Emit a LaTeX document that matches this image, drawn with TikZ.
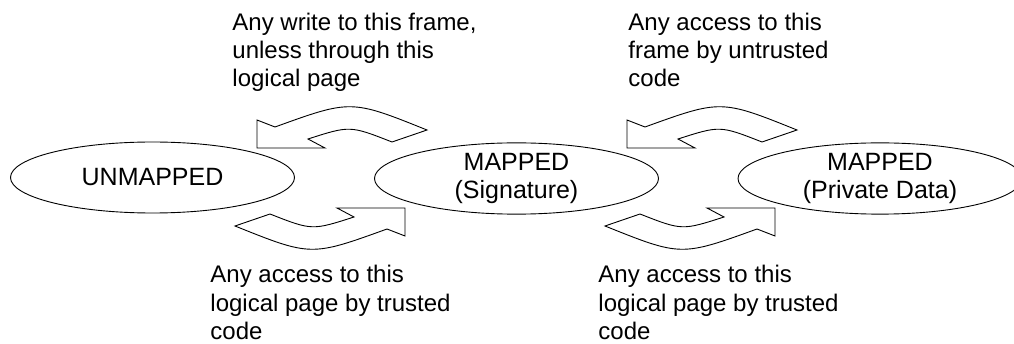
\documentclass[tikz,border=0pt]{standalone}
\usepackage{fontspec}
\setmainfont{Liberation Sans}
\usepackage{tikz}
\usetikzlibrary{shapes.geometric}

\begin{document}
\begin{tikzpicture}[x=1pt, y=-1pt, line width=0.9pt,
    state/.style={draw, ellipse, inner sep=0pt, minimum width=284pt, minimum height=71pt,
      align=center, font=\fontsize{25}{28}\selectfont},
    cond/.style={anchor=base west, inner sep=0pt, align=left,
      font=\fontsize{24}{28}\selectfont},
    bent arrow/.style={draw, line join=miter, fill=white}]
    \useasboundingbox (0,0) rectangle (1014,344);

    % States
    \node[state] (unmapped) at (152.5,177.5) {UNMAPPED};
    \node[state] (sig) at (516.5,178.5) {MAPPED\\(Signature)};
    \node[state] (priv) at (880,178.5) {MAPPED\\(Private Data)};

    % Curved arrows between the states
    \foreach \cx in {331,701}
      \foreach \rot in {0,180}
        \draw[bent arrow, shift={(\cx,178)}, rotate=\rot]
          (-74,-30) -- (-74,-58) -- (-56,-51) .. controls (20,-78.5) .. (96,-48)
          -- (61,-36) .. controls (19,-52.5) .. (-23,-39) -- (-6,-30) -- cycle;

    % Conditions (anchored at the baseline of the last line)
    \node[cond] (wr) at (232,87) {Any write to this frame,\\unless through this\\logical page};
    \node[cond] (untr) at (628,87) {Any access to this\\frame by untrusted\\code};
    \node[cond] (tr1) at (210,339) {Any access to this\\logical page by trusted\\code};
    \node[cond] (tr2) at (598,339) {Any access to this\\logical page by trusted\\code};
\end{tikzpicture}
\end{document}
